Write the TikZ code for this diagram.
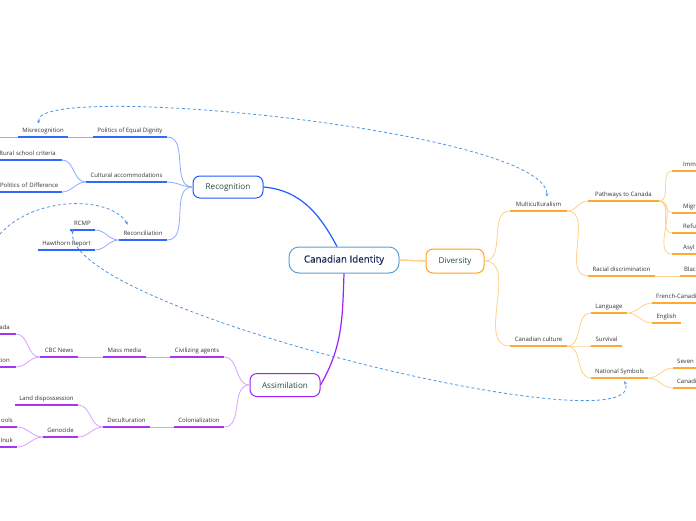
\documentclass[tikz,border=0pt]{standalone}
\usepackage{fontspec}
\setmainfont{Open Sans}
\newfontfamily\cifont{Open Sans}[FakeBold=0.6]
\usetikzlibrary{arrows.meta,calc}
\definecolor{txt}{HTML}{333333}
\definecolor{lvl}{HTML}{1F4E3D}
\definecolor{citxt}{HTML}{1B2A56}
\definecolor{ciborder}{HTML}{5A9FD6}
\definecolor{bmain}{HTML}{1F5CFF}
\definecolor{bul}{HTML}{3169FF}
\definecolor{bcon}{HTML}{8EABFF}
\definecolor{pmain}{HTML}{9E22F5}
\definecolor{pul}{HTML}{A733F5}
\definecolor{pcon}{HTML}{D6A2FF}
\definecolor{omain}{HTML}{FFA31A}
\definecolor{oul}{HTML}{FFA934}
\definecolor{ocon}{HTML}{FFD08E}
\definecolor{rel}{HTML}{4D94E6}
\begin{document}
\begin{tikzpicture}[x=1pt,y=1pt,
  tp/.style={inner xsep=0, inner ysep=3, text height=4.5, text depth=1.5,
    font=\fontsize{6}{7}\selectfont, text=txt, anchor=south},
  tpr/.style={tp, anchor=south east, text width=#1, align=right},
  tpl/.style={tp, anchor=south west, text width=#1, align=left},
  box/.style={draw, line width=1pt, rounded corners=7pt, fill=white,
    font=\fontsize{8.1}{9}\selectfont, text=lvl, inner sep=0},
  uline/.style={line width=1.6pt, line cap=butt},
  bcn/.style={draw=bcon, line width=0.8pt},
  pcn/.style={draw=pcon, line width=0.8pt},
  ocn/.style={draw=ocon, line width=0.8pt},
  relline/.style={draw=rel, line width=0.8pt, dash pattern=on 3pt off 2.5pt,
    {Stealth[length=3.5pt,width=3pt]}-{Stealth[length=3.5pt,width=3pt]}}
]
\useasboundingbox (0,0) rectangle (696,-520);
\clip (0,0) rectangle (696,-520);
\fill[white] (0,0) rectangle (696,-520);

% central and main boxes
\node[box, draw=ciborder, rounded corners=10pt, minimum width=110pt, minimum height=26pt,
  font=\cifont\fontsize{9.8}{11}\selectfont, text=citxt] (ci) at (344,-260) {Canadian Identity};
\node[box, draw=omain, minimum width=58pt, minimum height=24pt] (div) at (455,-261) {Diversity};
\node[box, draw=bmain, minimum width=70pt, minimum height=22pt] (rec) at (228,-187) {Recognition};
\node[box, draw=pmain, minimum width=70pt, minimum height=23pt] (asm) at (285,-385) {Assimilation};

% Recognition topics
\node[tp, minimum width=74pt] (ped) at (130,-137) {Politics of Equal Dignity};
\node[tp, minimum width=50pt] (mis) at (43,-137) {Misrecognition};
\node[tp, minimum width=81pt] (cac) at (126.5,-182) {Cultural accommodations};
\node[tpr=80pt] (csc) at (62,-160) {ultural school criteria\kern6pt};
\node[tpr=80pt] (pod) at (62,-192) {Politics of Difference\kern3.5pt};
\node[tp, minimum width=48pt] (rcl) at (143,-240) {Reconciliation};
\node[tp, minimum width=25pt] (rcmp) at (82.5,-230) {RCMP};
\node[tp, minimum width=57pt] (haw) at (66.5,-250) {Hawthorn Report};
\coordinate (misL) at (-10,-137);

% Assimilation topics
\node[tp, minimum width=54pt] (civ) at (197,-357) {Civilizing agents};
\node[tp, minimum width=50pt] (col) at (199,-427) {Colonialization};
\node[tp, minimum width=43pt] (mm) at (124.5,-357) {Mass media};
\node[tp, minimum width=38pt] (cbc) at (59,-357) {CBC News};
\node[tpr=40pt] (cbca) at (16,-334) {ada\kern6pt};
\node[tpr=40pt] (cbcb) at (16,-367) {tion\kern6pt};
\node[tp, minimum width=47pt] (dec) at (126.5,-427) {Deculturation};
\node[tp, minimum width=63pt] (land) at (46.5,-405) {Land dispossession};
\node[tp, minimum width=35pt] (gen) at (60.5,-437) {Genocide};
\node[tpr=40pt] (gena) at (17,-427) {ools\kern4pt};
\node[tpr=40pt] (genb) at (17,-447) {Inuk\kern4pt};

% Diversity topics
\node[tp, minimum width=57pt] (mul) at (538.5,-211) {Multiculturalism};
\node[tp, minimum width=57pt] (cc) at (538.5,-346) {Canadian culture};
\node[tp, minimum width=71pt] (pw) at (623.5,-201) {Pathways to Canada};
\node[tp, minimum width=67pt] (rd) at (621.5,-276) {Racial discrimination};
\node[tpl=40pt] (imm) at (672,-171) {\kern11pt Imm};
\node[tpl=40pt] (mig) at (672,-213) {\kern11pt Migr};
\node[tpl=40pt] (ref) at (672,-233) {\kern11pt Refu};
\node[tpl=40pt] (asy) at (672,-254) {\kern11pt Asyl};
\node[tpl=40pt] (blk) at (680,-276) {\kern4pt Blac};
\node[tp, minimum width=36pt] (lang) at (609,-313) {Language};
\node[tp, minimum width=31pt] (surv) at (606.5,-346) {Survival};
\node[tp, minimum width=57pt] (ns) at (619.5,-378) {National Symbols};
\node[tpl=60pt] (fc) at (652,-303) {\kern4pt French-Canadi};
\node[tp, minimum width=29pt] (eng) at (666.5,-323) {English};
\node[tpl=40pt] (sev) at (673,-368) {\kern4pt Seven};
\node[tpl=40pt] (can) at (673,-388) {\kern4pt Canadi};

% underlines
\foreach \n in {ped,mis,cac,csc,pod,rcl,rcmp,haw}
  \draw[uline, draw=bul] (\n.south west) -- (\n.south east);
\foreach \n in {civ,col,mm,cbc,cbca,cbcb,dec,land,gen,gena,genb}
  \draw[uline, draw=pul] (\n.south west) -- (\n.south east);
\foreach \n in {mul,cc,pw,rd,imm,mig,ref,asy,blk,lang,surv,ns,fc,eng,sev,can}
  \draw[uline, draw=oul] (\n.south west) -- (\n.south east);

% main connectors
\draw[draw=bmain, line width=1.2pt] (rec.east) to[out=-5,in=118] ($(ci.north)+(-7,0)$);
\draw[draw=pmain, line width=1.2pt] (ci.south) to[out=-92,in=60] (asm.east);
\draw[draw=ocon, line width=1.6pt] (ci.east) -- (div.west);

% Recognition connectors
\foreach \n in {ped,cac,rcl} \draw[bcn] (rec.west) to[out=180,in=0] (\n.south east);
\draw[bcn] (ped.south west) -- (mis.south east);
\draw[bcn] (mis.south west) -- (misL);
\foreach \n in {csc,pod} \draw[bcn] (cac.south west) to[out=180,in=0] (\n.south east);
\foreach \n in {rcmp,haw} \draw[bcn] (rcl.south west) to[out=180,in=0] (\n.south east);

% Assimilation connectors
\foreach \n in {civ,col} \draw[pcn] (asm.west) to[out=180,in=0] (\n.south east);
\draw[pcn] (civ.south west) -- (mm.south east);
\draw[pcn] (mm.south west) -- (cbc.south east);
\foreach \n in {cbca,cbcb} \draw[pcn] (cbc.south west) to[out=180,in=0] (\n.south east);
\draw[pcn] (col.south west) -- (dec.south east);
\foreach \n in {land,gen} \draw[pcn] (dec.south west) to[out=180,in=0] (\n.south east);
\foreach \n in {gena,genb} \draw[pcn] (gen.south west) to[out=180,in=0] (\n.south east);

% Diversity connectors
\foreach \n in {mul,cc} \draw[ocn] (div.east) to[out=0,in=180] (\n.south west);
\foreach \n in {pw,rd} \draw[ocn] (mul.south east) to[out=0,in=180] (\n.south west);
\foreach \n in {imm,mig,ref,asy} \draw[ocn] (pw.south east) to[out=0,in=180] (\n.south west);
\draw[ocn] (rd.south east) -- (blk.south west);
\foreach \n in {lang,surv,ns} \draw[ocn] (cc.south east) to[out=0,in=180] (\n.south west);
\foreach \n in {fc,eng} \draw[ocn] (lang.south east) to[out=0,in=180] (\n.south west);
\foreach \n in {sev,can} \draw[ocn] (ns.south east) to[out=0,in=180] (\n.south west);

% relationships
\coordinate (relL) at (-5,-240);
\draw[relline] ($(mis.north)+(-4,1)$) .. controls (30,-80) and (547,-130) .. ($(mul.north)+(8.5,2)$);
\draw[relline] (relL) .. controls (30,-195) and (110,-195) .. ($(rcl.north west)+(9,3)$);
\draw[relline] ($(rcmp.south west)+(3,1)$) .. controls (60,-310) and (650,-450) .. ($(ns.south)+(5,-3)$);
\end{tikzpicture}
\end{document}
